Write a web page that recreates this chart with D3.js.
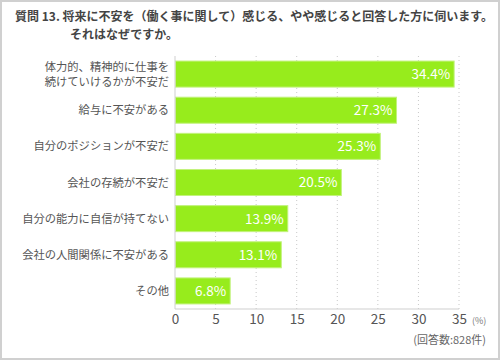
<!DOCTYPE html>
<html>
<head>
<meta charset="utf-8">
<script src="https://cdn.jsdelivr.net/npm/d3@7"></script>
<style>
  body { margin: 0; background: #fff; }
  svg text { font-family: "Noto Sans CJK JP", "Noto Sans", sans-serif; }
</style>
</head>
<body>
<div id="chart"></div>
<script>
// data
const categories = [
    ["体力的、精神的に仕事を", "続けていけるかが不安だ"],
    ["給与に不安がある"],
    ["自分のポジションが不安だ"],
    ["会社の存続が不安だ"],
    ["自分の能力に自信が持てない"],
    ["会社の人間関係に不安がある"],
    ["その他"]
];
const values = [34.4, 27.3, 25.3, 20.5, 13.9, 13.1, 6.8];
const tickValues = [0, 5, 10, 15, 20, 25, 30, 35];

const width = 500, height = 360;
const margin = {top: 56, right: 41, bottom: 51, left: 175};

const svg = d3.select("#chart").append("svg")
    .attr("width", width)
    .attr("height", height);

// outer frame
svg.append("rect")
    .attr("x", 1).attr("y", 1)
    .attr("width", width - 2).attr("height", height - 2)
    .attr("fill", "#fff")
    .attr("stroke", "#d0d0d0")
    .attr("stroke-width", 2);

// title
svg.append("text")
    .attr("x", 15).attr("y", 21)
    .attr("font-size", 12).attr("font-weight", "bold").attr("fill", "#444")
    .attr("textLength", 478).attr("lengthAdjust", "spacingAndGlyphs")
    .text("質問 13. 将来に不安を（働く事に関して）感じる、やや感じると回答した方に伺います。");
svg.append("text")
    .attr("x", 70).attr("y", 39)
    .attr("font-size", 12).attr("font-weight", "bold").attr("fill", "#444")
    .text("それはなぜですか。");

const innerW = width - margin.left - margin.right;
const innerH = height - margin.top - margin.bottom;

const x = d3.scaleLinear().domain([0, 35]).range([0, 284]);
const y = d3.scaleBand()
    .domain(d3.range(values.length))
    .range([0, innerH])
    .paddingInner(0.28)
    .paddingOuter(0.14);

const g = svg.append("g")
    .attr("transform", `translate(${margin.left},${margin.top})`);

// dotted grid
g.selectAll(".grid")
    .data(tickValues.slice(1))
    .enter().append("line")
    .attr("class", "grid")
    .attr("x1", d => x(d)).attr("x2", d => x(d))
    .attr("y1", 0).attr("y2", innerH)
    .attr("stroke", "#c8c8c8")
    .attr("stroke-dasharray", "1,3");

// bars
g.selectAll(".bar")
    .data(values)
    .enter().append("rect")
    .attr("class", "bar")
    .attr("x", 0.5)
    .attr("y", (d, i) => y(i))
    .attr("width", d => x(d) - 0.5)
    .attr("height", y.bandwidth())
    .attr("fill", "#97ec1c")
    .attr("stroke", "#c2f27c")
    .attr("stroke-width", 1);

// value labels
g.selectAll(".val")
    .data(values)
    .enter().append("text")
    .attr("class", "val")
    .attr("x", d => x(d) - 4)
    .attr("y", (d, i) => y(i) + y.bandwidth() / 2)
    .attr("dy", "0.36em")
    .attr("text-anchor", "end")
    .attr("font-size", 13.5)
    .attr("font-family", "Liberation Sans, Arial, sans-serif")
    .attr("fill", "#fff")
    .text(d => d.toFixed(1) + "%");

// category labels
const cat = g.selectAll(".cat")
    .data(categories)
    .enter().append("text")
    .attr("class", "cat")
    .attr("text-anchor", "end")
    .attr("font-size", 11.3).attr("fill", "#555")
    .attr("y", (d, i) => y(i) + y.bandwidth() / 2);
cat.each(function(d) {
    const t = d3.select(this);
    d.forEach((line, j) => {
        t.append("tspan")
            .attr("x", -6)
            .attr("dy", j === 0 ? ((0.36 - (d.length - 1) * 0.62) + "em") : "1.3em")
            .text(line);
    });
});

// axes lines
g.append("line")
    .attr("x1", 0).attr("x2", 0).attr("y1", 0).attr("y2", innerH)
    .attr("stroke", "#cfcfcf");

const xAxis = d3.axisBottom(x).tickValues(tickValues).tickSize(0).tickPadding(5);
const ax = g.append("g")
    .attr("transform", `translate(0,${innerH})`)
    .call(xAxis);
ax.select(".domain").attr("stroke", "#cfcfcf").attr("d", `M0,0H${x(35)}`);
ax.selectAll("text")
    .attr("font-size", 13.5)
    .attr("font-family", "Liberation Sans, Arial, sans-serif")
    .attr("fill", "#555");

// unit and n
svg.append("text")
    .attr("x", 472).attr("y", 324)
    .attr("font-size", 9).attr("fill", "#777")
    .text("(%)");
svg.append("text")
    .attr("x", 486).attr("y", 344)
    .attr("font-size", 11).attr("fill", "#666")
    .attr("text-anchor", "end")
    .text("(回答数:828件)");
</script>
</body>
</html>
